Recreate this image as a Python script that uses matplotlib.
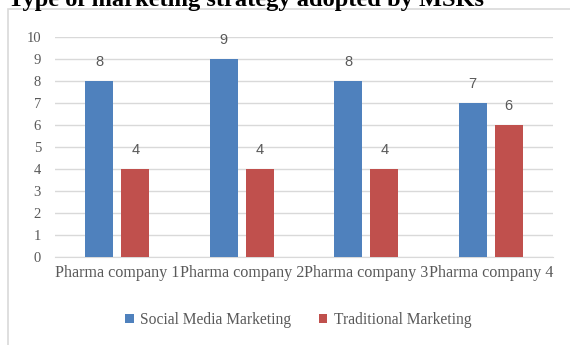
import numpy as np
import matplotlib
matplotlib.use("Agg")
import matplotlib.pyplot as plt
from matplotlib.patches import Rectangle

# data
companies = ["Pharma company 1", "Pharma company 2", "Pharma company 3", "Pharma company 4"]
social_media = [8, 9, 8, 7]
traditional = [4, 4, 4, 6]
series_names = ["Social Media Marketing", "Traditional Marketing"]

blue = "#4F81BD"
red = "#C0504D"
grey_txt = "#595959"
serif = ["Liberation Serif", "DejaVu Serif"]

fig = plt.figure(figsize=(5.7, 3.45), dpi=100)
fig.patch.set_facecolor("white")

# outer chart frame (runs off the right/bottom edge)
fig.patches.append(Rectangle((8 / 570, -0.05), 1.2, 1 - 9 / 345 + 0.05,
                             transform=fig.transFigure, fill=False,
                             edgecolor="#D9D9D9", linewidth=1.2))

# title, partly cut off at the top
fig.text(8 / 570, 1 - 6 / 345, "Type of marketing strategy adopted by MSKs",
         fontsize=17.6, fontweight="bold", family=serif, color="black",
         ha="left", va="baseline")

ax = fig.add_axes([55 / 570, 1 - 257 / 345, 498 / 570, 220 / 345])
x = np.arange(len(companies))
w = 0.225
off = 0.145
b1 = ax.bar(x - off, social_media, w, color=blue, label=series_names[0], zorder=3)
b2 = ax.bar(x + off, traditional, w, color=red, label=series_names[1], zorder=3)

for bars, vals in ((b1, social_media), (b2, traditional)):
    for bar, v in zip(bars, vals):
        ax.text(bar.get_x() + bar.get_width() / 2, v + 0.55, str(v),
                ha="center", va="bottom", fontsize=10.5, color=grey_txt,
                family=["Liberation Sans Narrow", "Liberation Sans", "DejaVu Sans"])

ax.set_xlim(-0.5, 3.5)
ax.set_ylim(0, 10)
ax.set_yticks(range(0, 11))
ax.set_xticks(x)
ax.set_xticklabels(companies)
ax.grid(axis="y", color="#D9D9D9", linewidth=1, zorder=0)
for s in ["top", "right", "left"]:
    ax.spines[s].set_visible(False)
ax.spines["bottom"].set_color("#D9D9D9")
ax.tick_params(axis="both", length=0, colors=grey_txt, labelsize=10.5)
ax.tick_params(axis="y", pad=10)
ax.tick_params(axis="x", pad=6, labelsize=11.6)
for lbl in ax.get_xticklabels() + ax.get_yticklabels():
    lbl.set_family(serif)

ax.legend(loc="center", bbox_to_anchor=(298 / 570, 1 - 320 / 345),
          bbox_transform=fig.transFigure, ncol=2, frameon=False,
          prop={"family": serif, "size": 11.2}, labelcolor=grey_txt,
          handlelength=0.55, handleheight=0.55, handletextpad=0.4,
          columnspacing=1.8)

fig.savefig("out.png", dpi=100)
